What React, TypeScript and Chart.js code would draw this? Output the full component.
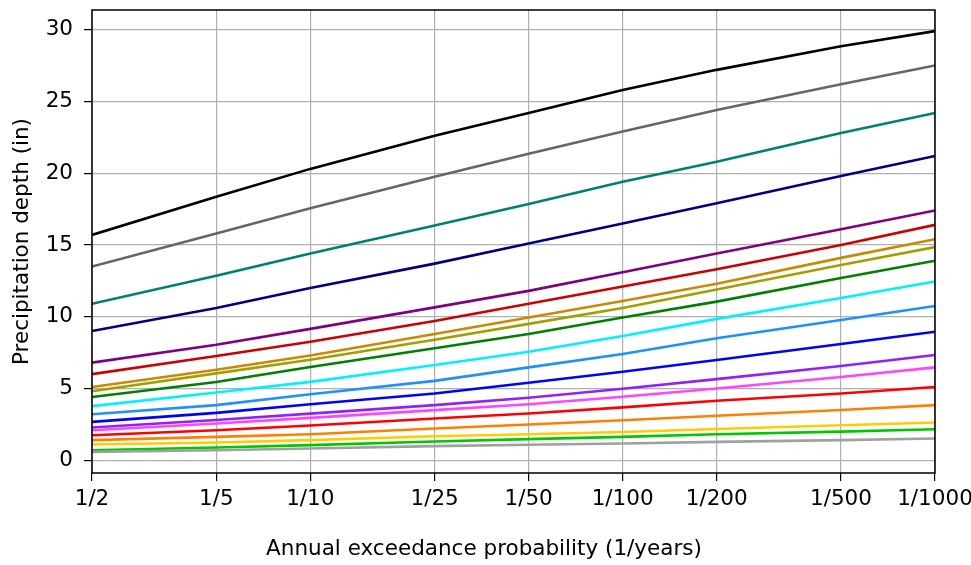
import React, { useEffect, useRef } from "react";
import { Chart, registerables } from "chart.js";

Chart.register(...registerables);

const returnPeriods = [2, 5, 10, 25, 50, 100, 200, 500, 1000];
const xTickLabels = ["1/2", "1/5", "1/10", "1/25", "1/50", "1/100", "1/200", "1/500", "1/1000"];
const yTicks = [0, 5, 10, 15, 20, 25, 30];
const xTitle = "Annual exceedance probability (1/years)";
const yTitle = "Precipitation depth (in)";

const seriesBlack = [15.7, 18.35, 20.3, 22.6, 24.2, 25.8, 27.2, 28.85, 29.9];
const seriesDimGray = [13.5, 15.8, 17.55, 19.75, 21.35, 22.9, 24.4, 26.2, 27.5];
const seriesTeal = [10.9, 12.85, 14.4, 16.35, 17.85, 19.4, 20.8, 22.8, 24.2];
const seriesNavy = [9.0, 10.6, 12.0, 13.7, 15.1, 16.5, 17.9, 19.8, 21.2];
const seriesPurple = [6.8, 8.05, 9.15, 10.65, 11.8, 13.1, 14.4, 16.1, 17.4];
const seriesFirebrick = [6.0, 7.26, 8.25, 9.7, 10.9, 12.1, 13.3, 15.0, 16.4];
const seriesGoldenrod = [5.1, 6.3, 7.3, 8.8, 9.95, 11.1, 12.3, 14.1, 15.4];
const seriesOlive = [4.8, 6.05, 7.0, 8.4, 9.5, 10.6, 11.9, 13.6, 14.85];
const seriesDarkGreen = [4.4, 5.45, 6.5, 7.8, 8.8, 9.95, 11.05, 12.7, 13.9];
const seriesCyan = [3.77, 4.72, 5.46, 6.63, 7.56, 8.65, 9.85, 11.3, 12.45];
const seriesDodgerBlue = [3.2, 3.84, 4.6, 5.53, 6.47, 7.4, 8.5, 9.77, 10.75];
const seriesBlue = [2.67, 3.3, 3.9, 4.65, 5.4, 6.16, 6.98, 8.1, 8.95];
const seriesViolet = [2.28, 2.8, 3.25, 3.84, 4.35, 4.98, 5.65, 6.56, 7.33];
const seriesMagenta = [2.09, 2.56, 2.95, 3.49, 3.9, 4.42, 5.0, 5.8, 6.47];
const seriesRed = [1.74, 2.09, 2.42, 2.91, 3.26, 3.68, 4.14, 4.65, 5.1];
const seriesOrange = [1.4, 1.63, 1.81, 2.21, 2.49, 2.79, 3.1, 3.5, 3.84];
const seriesGold = [1.1, 1.24, 1.4, 1.67, 1.81, 1.97, 2.18, 2.44, 2.63];
const seriesGreen = [0.7, 0.89, 1.05, 1.3, 1.47, 1.63, 1.81, 1.99, 2.16];
const seriesGray = [0.58, 0.7, 0.82, 0.98, 1.08, 1.17, 1.28, 1.4, 1.51];

const seriesList: [number[], string][] = [
  [seriesGray, "#a0a0a0"],
  [seriesGreen, "#00c800"],
  [seriesGold, "#ffcc00"],
  [seriesOrange, "#ff8000"],
  [seriesRed, "#ff0000"],
  [seriesMagenta, "#ff44ff"],
  [seriesViolet, "#9020ff"],
  [seriesBlue, "#0000ff"],
  [seriesDodgerBlue, "#1e90ff"],
  [seriesCyan, "#00f0ff"],
  [seriesDarkGreen, "#008000"],
  [seriesOlive, "#a0a000"],
  [seriesGoldenrod, "#cc8800"],
  [seriesFirebrick, "#cc0000"],
  [seriesPurple, "#800080"],
  [seriesNavy, "#000080"],
  [seriesTeal, "#008070"],
  [seriesDimGray, "#666666"],
  [seriesBlack, "#000000"],
];

const FONT = "'DejaVu Sans', sans-serif";
const FS = 21.5;

export default function App() {
  const ref = useRef<HTMLCanvasElement | null>(null);

  useEffect(() => {
    document.body.style.margin = "0";
    const canvas = ref.current;
    if (!canvas) return;

    const frame = {
      id: "frame",
      afterDatasetsDraw(chart: any) {
        const { ctx, chartArea } = chart;
        ctx.save();
        ctx.strokeStyle = "#000";
        ctx.lineWidth = 1.5;
        ctx.strokeRect(chartArea.left, chartArea.top, chartArea.right - chartArea.left, chartArea.bottom - chartArea.top);
        ctx.restore();
      },
      afterDraw(chart: any) {
        const { ctx } = chart;
        ctx.save();
        ctx.fillStyle = "#000";
        ctx.font = `${FS}px ${FONT}`;
        ctx.textAlign = "center";
        ctx.textBaseline = "middle";
        ctx.fillText(xTitle, 484, 549);
        ctx.restore();
      },
    };

    const chart = new Chart(canvas, {
      type: "line",
      data: {
        datasets: seriesList.map(([vals, color]) => ({
          data: returnPeriods.map((t, i) => ({ x: t, y: vals[i] })),
          borderColor: color,
          backgroundColor: color,
          borderWidth: 2.6,
          pointRadius: 0,
          fill: false,
          tension: 0,
        })),
      },
      options: {
        animation: false,
        responsive: false,
        maintainAspectRatio: false,
        layout: { padding: { left: 0, top: 10, right: 36, bottom: 0 } },
        plugins: { legend: { display: false }, tooltip: { enabled: false } },
        scales: {
          x: {
            type: "logarithmic",
            min: 2,
            max: 1000,
            afterBuildTicks: (scale: any) => {
              scale.ticks = returnPeriods.map((v) => ({ value: v }));
            },
            afterFit: (scale: any) => {
              scale.height = 92;
              scale.paddingLeft = 0;
              scale.paddingRight = 0;
            },
            ticks: {
              autoSkip: false,
              maxRotation: 0,
              color: "#000",
              padding: 6,
              font: { family: FONT, size: FS },
              callback: (value: any) => {
                const idx = returnPeriods.indexOf(Number(value));
                return idx >= 0 ? xTickLabels[idx] : "";
              },
            },
            grid: { color: "#b0b0b0", lineWidth: 1.2, tickColor: "#000", tickLength: 8, drawTicks: true },
            border: { display: false },
            title: { display: false },
          },
          y: {
            type: "linear",
            min: -0.89,
            max: 31.37,
            afterBuildTicks: (scale: any) => {
              scale.ticks = yTicks.map((v) => ({ value: v }));
            },
            afterFit: (scale: any) => {
              scale.width = 92;
              scale.paddingTop = 0;
              scale.paddingBottom = 0;
            },
            ticks: {
              color: "#000",
              padding: 11,
              font: { family: FONT, size: FS },
              callback: (value: any) => String(value),
            },
            grid: { color: "#b0b0b0", lineWidth: 1.2, tickColor: "#000", tickLength: 8, drawTicks: true },
            border: { display: false },
            title: {
              display: true,
              text: yTitle,
              color: "#000",
              font: { family: FONT, size: FS },
              padding: { top: 9.6, bottom: 0 },
            },
          },
        },
      },
      plugins: [frame],
    });

    return () => chart.destroy();
  }, []);

  return (
    <div style={{ position: "relative", width: 971, height: 565 }}>
      <canvas ref={ref} width={971} height={565} style={{ width: 971, height: 565, display: "block" }} />
    </div>
  );
}
